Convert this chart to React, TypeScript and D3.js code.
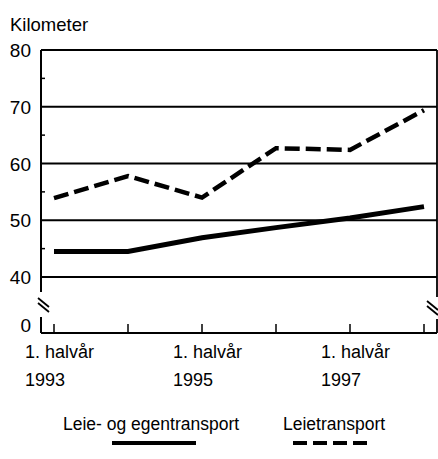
import React from 'react'
import * as d3 from 'd3'

const periods = ['1993', '1994', '1995', '1996', '1997', '1998']
const egentransport = [44.5, 44.5, 46.9, 48.7, 50.4, 52.4]
const leietransport = [53.9, 57.8, 54.0, 62.7, 62.4, 69.4]
const gridValues = [40, 50, 60, 70, 80]
const minorValues = [45, 55, 65, 75]
const labelIndexes = [0, 2, 4]
const halfLabel = '1. halvår'

const W = 438
const H = 459
const left = 41
const right = 437
const top = 50
const y40 = 277
const axisY = 333
const font = '"Liberation Sans", Arial, sans-serif'

export default function App() {
  const x = d3.scaleLinear().domain([0, periods.length - 1]).range([54, 424])
  const y = d3.scaleLinear().domain([40, 80]).range([y40, top])

  const line = d3
    .line<number>()
    .x((d, i) => x(i))
    .y(d => y(d))

  const breakMark = (cx: number, cy: number) => (
    <g stroke="#000" strokeWidth={1.8}>
      <line x1={cx - 5} y1={cy - 6} x2={cx + 6} y2={cy + 3} />
      <line x1={cx - 5} y1={cy - 1} x2={cx + 6} y2={cy + 8} />
    </g>
  )

  return (
    <svg width={W} height={H} style={{ position: 'absolute', left: 0, top: 0 }} fontFamily={font}>
      <rect width={W} height={H} fill="#fff" />
      <text x={10} y={31} fontSize={18.5}>Kilometer</text>

      {gridValues.map(v => (
        <g key={v}>
          <line x1={left} x2={right} y1={y(v)} y2={y(v)} stroke="#000" strokeWidth={1.8} />
          <text x={left - 10} y={y(v) + 7} fontSize={19}>
            <tspan textAnchor="end">{v}</tspan>
          </text>
        </g>
      ))}
      {minorValues.map(v => (
        <line key={v} x1={left} x2={left + 4} y1={y(v)} y2={y(v)} stroke="#000" strokeWidth={1.5} />
      ))}

      {/* axis lines with breaks */}
      <line x1={left} x2={left} y1={top} y2={292} stroke="#000" strokeWidth={2} />
      <line x1={left} x2={left} y1={317} y2={axisY} stroke="#000" strokeWidth={2} />
      <line x1={right} x2={right} y1={top} y2={297} stroke="#000" strokeWidth={1.8} />
      <line x1={right} x2={right} y1={319} y2={axisY} stroke="#000" strokeWidth={1.8} />
      {breakMark(43, 304)}
      {breakMark(432, 307)}

      <text x={left - 10} y={332} fontSize={19} textAnchor="end">0</text>
      <line x1={left} x2={right} y1={axisY} y2={axisY} stroke="#000" strokeWidth={2} />
      {periods.map((p, i) => (
        <line key={p} x1={x(i)} x2={x(i)} y1={axisY} y2={axisY - 9} stroke="#000" strokeWidth={1.5} />
      ))}
      {labelIndexes.map(i => (
        <g key={i} fontSize={18}>
          <text x={x(i) - 29} y={358}>{halfLabel}</text>
          <text x={x(i) - 29} y={386}>{periods[i]}</text>
        </g>
      ))}

      <path d={line(egentransport) || ''} fill="none" stroke="#000" strokeWidth={5} />
      <path
        d={line(leietransport) || ''}
        fill="none"
        stroke="#000"
        strokeWidth={4.5}
        strokeDasharray="15 6"
      />

      <text x={63} y={430} fontSize={17.5}>Leie- og egentransport</text>
      <line x1={112} x2={196} y1={443} y2={443} stroke="#000" strokeWidth={4} />
      <text x={283} y={430} fontSize={17.5}>Leietransport</text>
      <line x1={293} x2={367} y1={443} y2={443} stroke="#000" strokeWidth={4} strokeDasharray="14 6" />
    </svg>
  )
}
